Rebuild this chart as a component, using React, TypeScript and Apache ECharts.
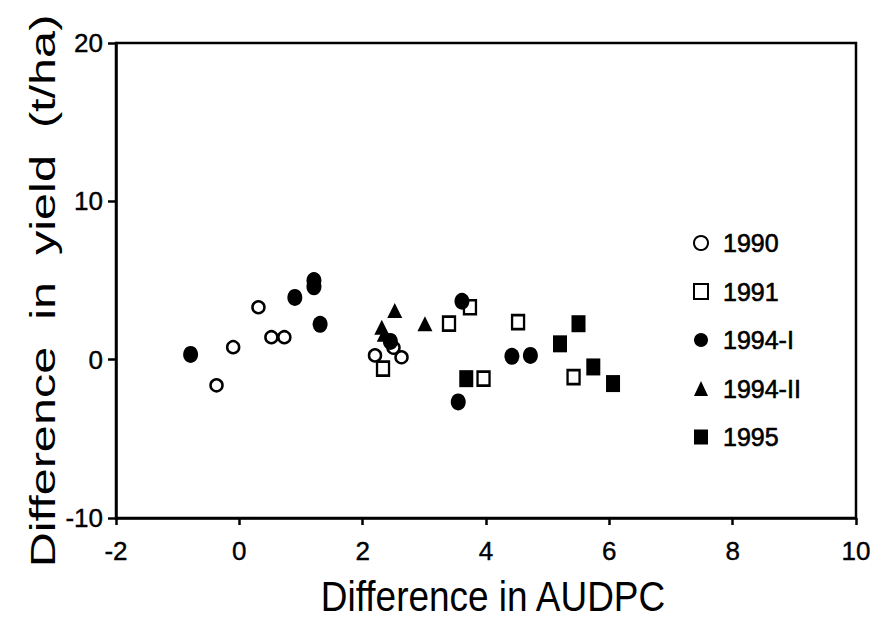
import React, { useEffect, useRef } from "react";
import * as echarts from "echarts";

const seriesNames = ["1990", "1991", "1994-I", "1994-II", "1995"];

const s1990: number[][] = [
  [0.31, 3.31], [-0.1, 0.79], [-0.37, -1.62], [0.52, 1.42], [0.73, 1.42],
  [2.2, 0.27], [2.5, 0.75], [2.63, 0.15],
];
const s1991: number[][] = [
  [2.33, -0.57], [3.4, 2.27], [3.74, 3.31], [3.96, -1.2], [4.52, 2.37], [5.42, -1.1],
];
const s1994I: number[][] = [
  [-0.79, 0.33], [0.9, 3.93], [1.21, 4.6], [1.21, 5.0], [1.31, 2.23], [3.61, 3.69],
  [4.42, 0.21], [4.72, 0.27], [3.55, -2.67], [2.45, 1.15],
];
const s1994II: number[][] = [
  [2.52, 3.1], [3.01, 2.27], [2.31, 2.05], [2.35, 1.6],
];
const s1995: number[][] = [
  [3.68, -1.2], [5.2, 1.0], [5.5, 2.27], [5.74, -0.46], [6.06, -1.51],
];

const xTicks = { min: -2, max: 10, interval: 2 };
const yTicks = { min: -10, max: 20, interval: 10 };
const xTitle = "Difference in AUDPC";
const yTitle = "Difference  in  yield  (t/ha)";

const SANS = "'Liberation Sans', Arial, Helvetica, sans-serif";

export default function App() {
  const ref = useRef<HTMLDivElement>(null);
  useEffect(() => {
    if (!ref.current) return;
    const chart = echarts.init(ref.current, undefined, { renderer: "svg" });
    const open = { color: "#fff", borderColor: "#000", borderWidth: 2.5, opacity: 1 };
    const filled = { color: "#000", borderColor: "#000", borderWidth: 0, opacity: 1 };
    chart.setOption({
      animation: false,
      backgroundColor: "#fff",
      grid: {
        left: 116, right: 29, top: 43, bottom: 102,
        show: true, borderColor: "#000", borderWidth: 2.5, backgroundColor: "transparent",
      },
      legend: {
        orient: "vertical",
        left: 688,
        top: 225,
        itemWidth: 14,
        itemHeight: 15,
        itemGap: 22.5,
        textStyle: {
          fontFamily: SANS, fontSize: 25, color: "#000", lineHeight: 26,
          textBorderColor: "#000", textBorderWidth: 0.6, padding: [0, 0, 0, 10],
        },
        data: seriesNames,
      },
      graphic: [
        {
          type: "text",
          x: 493,
          y: 596,
          scaleX: 0.88,
          style: {
            text: xTitle, fontFamily: SANS, fontSize: 42, lineHeight: 42, fill: "#000",
            align: "center", verticalAlign: "middle",
          },
        },
        {
          type: "text",
          x: 42,
          y: 291,
          rotation: Math.PI / 2,
          scaleX: 1.35,
          style: {
            text: yTitle, fontFamily: SANS, fontSize: 36, lineHeight: 36, fill: "#000",
            align: "center", verticalAlign: "middle",
          },
        },
      ],
      xAxis: {
        type: "value",
        ...xTicks,
        axisLine: { show: true, onZero: false, lineStyle: { color: "#000", width: 2.5 } },
        axisTick: { show: true, inside: false, length: 7, lineStyle: { color: "#000", width: 2.5 } },
        axisLabel: {
          fontFamily: SANS, fontSize: 26, color: "#000", margin: 20,
          textBorderColor: "#000", textBorderWidth: 0.4,
        },
        splitLine: { show: false },
      },
      yAxis: {
        type: "value",
        ...yTicks,
        axisLine: { show: true, onZero: false, lineStyle: { color: "#000", width: 2.5 } },
        axisTick: { show: true, inside: false, length: 8, lineStyle: { color: "#000", width: 2.5 } },
        axisLabel: {
          fontFamily: SANS, fontSize: 26, color: "#000", margin: 13,
          textBorderColor: "#000", textBorderWidth: 0.4,
        },
        splitLine: { show: false },
      },
      series: [
        { name: "1990", type: "scatter", data: s1990, symbol: "circle", symbolSize: 12, itemStyle: open },
        { name: "1991", type: "scatter", data: s1991, symbol: "rect", symbolSize: [12, 14], itemStyle: open },
        { name: "1994-I", type: "scatter", data: s1994I, symbol: "circle", symbolSize: [15, 17], itemStyle: filled },
        { name: "1994-II", type: "scatter", data: s1994II, symbol: "triangle", symbolSize: 15, itemStyle: filled },
        { name: "1995", type: "scatter", data: s1995, symbol: "rect", symbolSize: [14, 17], itemStyle: filled },
      ],
    });
    return () => chart.dispose();
  }, []);
  return <div ref={ref} style={{ width: 885, height: 620, position: "absolute", left: 0, top: 0 }} />;
}
